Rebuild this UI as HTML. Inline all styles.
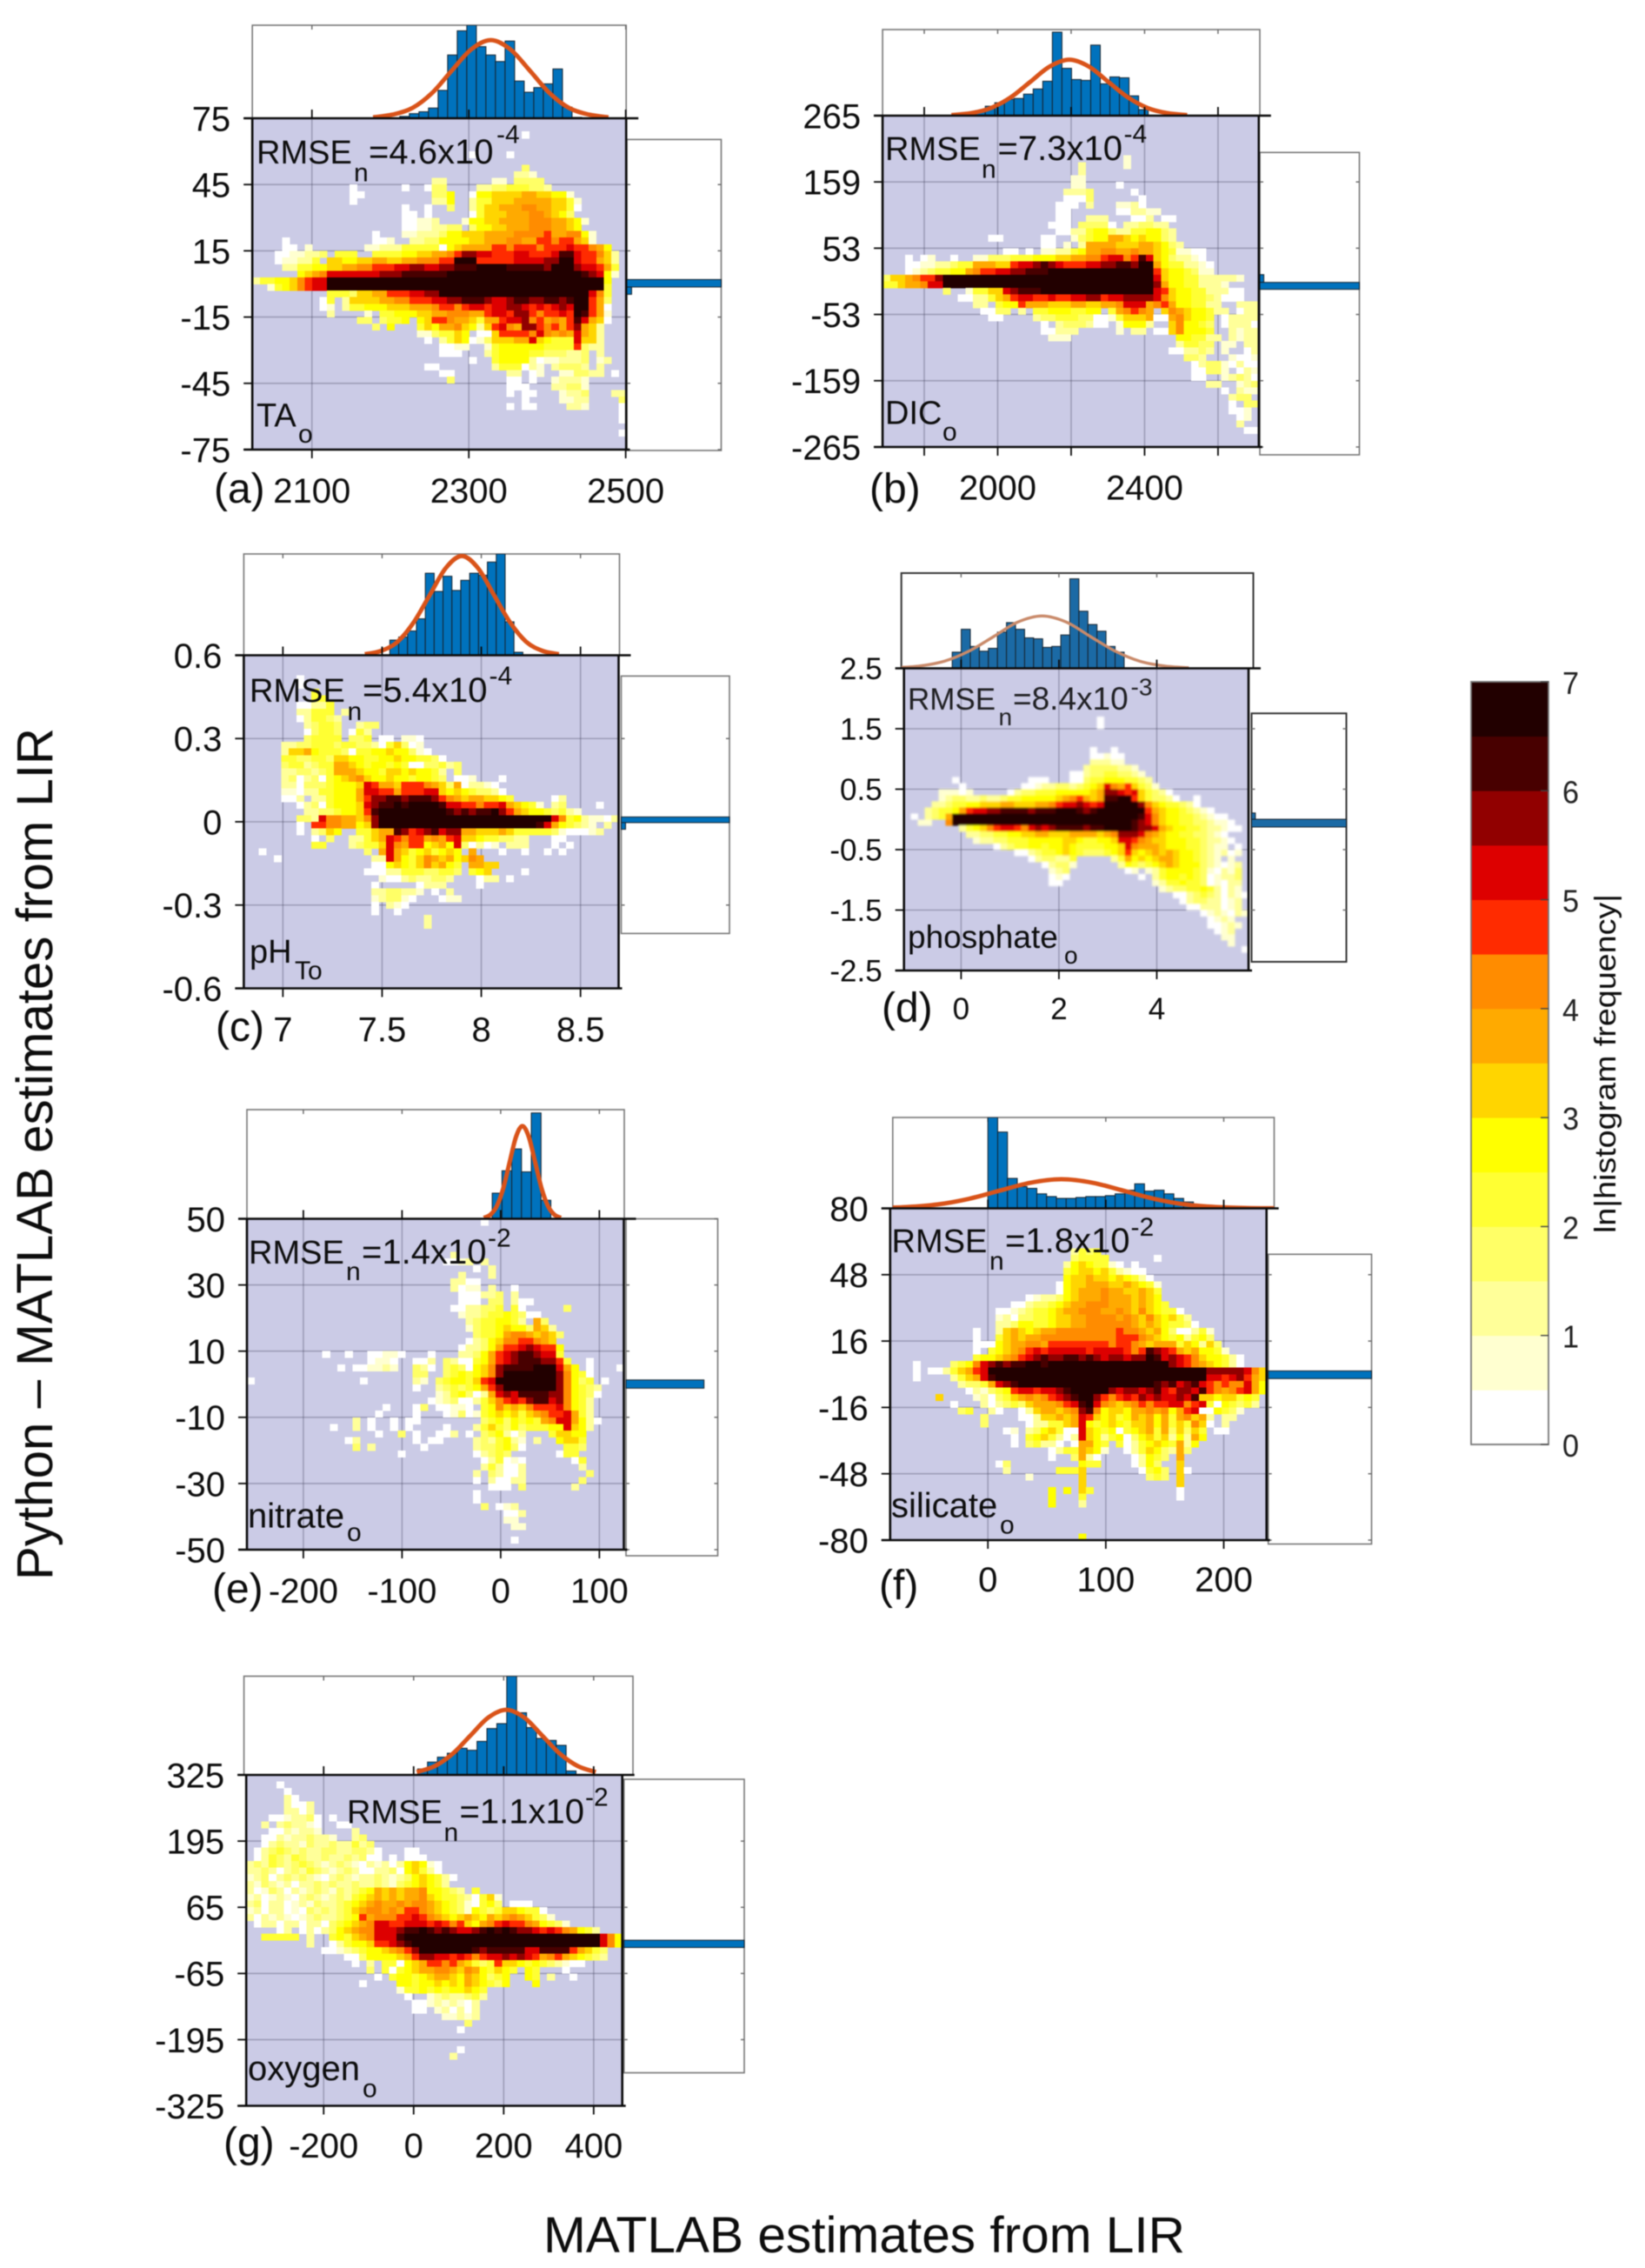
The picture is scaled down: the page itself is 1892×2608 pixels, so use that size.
<!DOCTYPE html>
<html lang="en">
<head>
<meta charset="utf-8">
<title>Python minus MATLAB estimates from LIR</title>
<style>
html,body{margin:0;padding:0;background:#fff}
#figure{display:block;filter:blur(.55px)}
text{font-family:"Liberation Sans",Arial,sans-serif;fill:#0d0d0d}
</style>
</head>
<body>
<svg id="figure" xmlns="http://www.w3.org/2000/svg" width="1892" height="2608" viewBox="0 0 1892 2608">
<rect x="0" y="0" width="1892" height="2608" fill="#ffffff"/>
<g id="plots"></g>
<g id="colorbar"></g>

<g>
<text font-size="38" y="188"><tspan x="295">RMSE</tspan><tspan x="407" y="208.5" font-size="30">n</tspan><tspan x="424" y="188" font-size="40">=4.6x10</tspan><tspan x="571" y="164.5" font-size="30">-4</tspan></text>
<text font-size="38" y="184"><tspan x="1018">RMSE</tspan><tspan x="1129" y="204.5" font-size="30">n</tspan><tspan x="1147.5" y="184" font-size="40">=7.3x10</tspan><tspan x="1292.5" y="164" font-size="30">-4</tspan></text>
<text font-size="38" y="807"><tspan x="287">RMSE</tspan><tspan x="399.5" y="828" font-size="30">n</tspan><tspan x="417" y="807" font-size="40">=5.4x10</tspan><tspan x="562.5" y="787" font-size="30">-4</tspan></text>
<text font-size="35" y="816" fill-opacity=".9"><tspan x="1044">RMSE</tspan><tspan x="1148.5" y="834" font-size="28">n</tspan><tspan x="1165" y="816" font-size="37">=8.4x10</tspan><tspan x="1300.5" y="799.5" font-size="28">-3</tspan></text>
<text font-size="38" y="1453"><tspan x="286">RMSE</tspan><tspan x="398" y="1472" font-size="30">n</tspan><tspan x="416" y="1453" font-size="40">=1.4x10</tspan><tspan x="561" y="1433.5" font-size="30">-2</tspan></text>
<text font-size="38" y="1440"><tspan x="1025.5">RMSE</tspan><tspan x="1138" y="1460" font-size="30">n</tspan><tspan x="1156" y="1440" font-size="40">=1.8x10</tspan><tspan x="1300.5" y="1421" font-size="30">-2</tspan></text>
<text font-size="38" y="2096.5"><tspan x="399">RMSE</tspan><tspan x="510.5" y="2117" font-size="30">n</tspan><tspan x="528.5" y="2096.5" font-size="40">=1.1x10</tspan><tspan x="673" y="2076.5" font-size="30">-2</tspan></text>

<text font-size="38" y="490.5"><tspan x="295">TA</tspan><tspan x="343" y="509" font-size="30">o</tspan></text>
<text font-size="38" y="487.5"><tspan x="1018">DIC</tspan><tspan x="1084" y="506.5" font-size="30">o</tspan></text>
<text font-size="38" y="1107"><tspan x="287">pH</tspan><tspan x="339" y="1126" font-size="30">To</tspan></text>
<text font-size="37" y="1090"><tspan x="1044">phosphate</tspan><tspan x="1224" y="1108" font-size="28">o</tspan></text>
<text font-size="40" y="1756.5"><tspan x="285">nitrate</tspan><tspan x="399" y="1772" font-size="30">o</tspan></text>
<text font-size="40" y="1744.5"><tspan x="1025">silicate</tspan><tspan x="1150" y="1763.5" font-size="30">o</tspan></text>
<text font-size="40" y="2392"><tspan x="285">oxygen</tspan><tspan x="417" y="2411.5" font-size="30">o</tspan></text>

<text x="246" y="578" font-size="48">(a)</text>
<text x="1000" y="578" font-size="48">(b)</text>
<text x="248" y="1197" font-size="48">(c)</text>
<text x="1014" y="1175" font-size="48">(d)</text>
<text x="244" y="1843" font-size="48">(e)</text>
<text x="1011" y="1839" font-size="48">(f)</text>
<text x="257" y="2480" font-size="48">(g)</text>

<text transform="translate(60,1327) rotate(-90)" text-anchor="middle" font-size="58" textLength="980" lengthAdjust="spacingAndGlyphs">Python – MATLAB estimates from LIR</text>
<text x="625" y="2590" font-size="58" textLength="738" lengthAdjust="spacingAndGlyphs">MATLAB estimates from LIR</text>
<text transform="translate(1858,1418) rotate(-90)" font-size="34" textLength="390" lengthAdjust="spacingAndGlyphs">ln|histogram frequency|</text>
</g>
</svg>

<script>
// ---------- shared values ----------
const levelColors = ['#ffffff','#ffffd0','#ffff99','#ffff66','#ffff33','#ffff00','#ffd500','#ffaa00','#ff8c00','#ff2b00','#dd0000','#910000','#480000','#220000'];
const levelKeys = 'abcdefghijklmn';
const colorbarTicks = [7,6,5,4,3,2,1,0];

// ---------- panel a: TA ----------
const aXTicks = [2100,2300,2500];
const aXLabels = ['2100','2300','2500'];
const aYTicks = [75,45,15,-15,-45,-75];
const aYLabels = ['75','45','15','-15','-45','-75'];
const aHistStart = 2212;
const aHistWidth = 12.2;
const aHist = [2,5,7,11,30,68,94,100,77,68,61,83,40,28,33,37,53,12,1];
const aCurveX = [2178,2203,2228,2253,2278,2303,2328,2353,2378,2403,2428,2453,2478];
const aCurveY = [1,4,11,27,51,74,84,74,51,27,11,4,1];
const aRightEdges = [2,-1.4,-4.7];
const aRightValues = [100,5];
const aCells = ["","",".36a","","",".29a.4a","",".36d",".35c2b",".24c2.6b2.1d4",
".13a.6a.2ad2.4c2d2e3d2c",".13a2.9d2f.2af2g4h2g2f2b",".13a.10c2f.2ce2g3h5g2eb",".20a.2a.2d.2ceg2h3i2h2g2ea",".20a2.1a.5aeg3h3i2hgfd",".20a2b2c.3bf2g2h4i3h2gfb",".20a2b2c2d2.1df2g2h3i3h2gf",".16a.3b2c3df2g3h4i4jh2i2fb",".4a.11a2b.2c2d2f4g2h3i2h2j2ij2hgb",".4a2.1b.7b2c3e5afgh4j2ij3ij3kj2ihf",
".3a2b2c2d.1e3.2e4f2g2h2ijl2k2j3k2j3km2kj2igc",".3ab2c2e.1g2f2g2h2g2h2i3j2n3j5k4l2n2kj2hgc",".4c2e2f2g2h2i2j3k2l2k2l2m3n4m5ln3lk2jhe",".6fghik7l3m6n18mlkfb","ce2f2gijk2n37f",".2befgijk2n37e",".10e3dg2h2j3k2l2n20kie",".9ae.1cg4h2i2j3k2l2m3lk2lm2l2m2lmn2jhd",".9ab.1ce2f3g3h3ij2ijk2jk2l2kjkjklkn2jha",".10c.4b.1e2f3g2h2i3h2jk2jl2jij2kjnmjhb",
".14d2.1de2f.1fgj2ih2geh2jk2lijhihjmkhga",".16d.1f.3egfh2igfcgjkihl2jijhjlhgc",".22b2de2gf.1a2gj4ikihihkhgc",".23a.1cegfabdg3h2kgfe3kg2c",".25a2b2.2bef6e4jdc2",".25a3.3cef4e2d3c2d.1c",".29a.2ef4cab2c3d.1bc",".23a2.7ce3acb.1cd3c.1c",".25a2.7c2.1ab.2b2d2c2.1a",".26d.7a2.1a.2bc3b",
".34a3.3c2d2b",".34a.1a2.3bc2d.3c2",".36a.4b2c2.4da",".34a.1a2.4c2b.4a",".49a",".49a","",".49a","",""];

// ---------- panel b: DIC ----------
const bXTicks = [1800,2000,2200,2400,2600];
const bXLabels = ['','2000','','2400',''];
const bYTicks = [265,159,53,-53,-159,-265];
const bYLabels = ['265','159','53','-53','-159','-265'];
const bHistStart = 1914;
const bHistWidth = 26.1;
const bHist = [3,6,11,15,19,20,25,31,40,97,55,42,41,82,37,45,44,23,7];
const bCurveX = [1874,1927.5,1981,2034.5,2088,2141.5,2195,2248.5,2302,2355.5,2409,2462.5,2516];
const bCurveY = [0.7,2.9,8.8,21,39,57,65,57,39,21,8.8,2.9,0.7];
const bRightEdges = [10.7,-1.7,-12.8];
const bRightValues = [4,100];
const bCells = ["","","","","","",".32b",".26c.5b",".26c",".25b2",
".25b2.4a",".24c3d.5a",".24a3d.6a",".23a3.1c.3b2ca",".23a2.6a2c2b2",".23a2.2c3.3a2c.1a2",".22a3.1d4a.1c2d2c2",".23a2c2ef2dc2e2f2dc",".14a2.5a2.2bdef2h2gfgf2dc",".21a2.1b.1ch4g3h2gfdc",
".16a2.1a.1b2c2efh2i2h2ih2gfeb2a2",".3a.1ab.2a.2b2d3e3f3g2h2i2jk2ijmkgfdc2ba",".3a2b2c2de2h3g2jk2lmlkj3k2l2m2ln2hfe2c2ba",".3abcde2f2hij2k2l2m3n14jgf2edb2","dg2hij2ln28kgf2e2c5b","e2gh2ik2n28lhf2e2c3b",".8d.2be2g2klm3n15kjgf2e2c3a2",".10a2c2eghjk2j2kj2k2l2jk2l4kigf2e2dca3",".12c2.1ef2jh3g3h2g2h2ik3hijhf2e2c2.2c3",".13a2d2.1c.1e2f3e2f2.1ehijih.1gihgf2ec2.1ac2",
".14a2.4cd2e3d2a2beg3ha2higf2e.1ac4",".21a.1cd3ca2.1bf3c.2gif2ed.1ac3a",".21a2c3.5b.1c2.1a2gif3e.2cbc2",".22b3.14f2e2c2.1cbc2",".39ce2d2.1b2.1c2",".38a2c2dc.1b.2ac",".40d2c.3ba2b",".41acd2bacaa",".41a2d2b.1acb",".41a2.2bcdca",
".43c2.2bcd.1a",".45a.1cb2c",".46cd2.1c",".46a.1d2",".46a2b",".47ab",".47c",".48a2","",""];

// ---------- panel c: pH ----------
const cXTicks = [7,7.5,8,8.5];
const cXLabels = ['7','7.5','8','8.5'];
const cYTicks = [0.6,0.3,0,-0.3,-0.6];
const cYLabels = ['0.6','0.3','0','-0.3','-0.6'];
const cHistStart = 7.539;
const cHistWidth = 0.0447;
const cHist = [15,18,24,36,81,63,78,64,74,81,79,92,100,33,3];
const cCurveX = [7.413,7.4945,7.576,7.6575,7.739,7.8205,7.902,7.9835,8.065,8.1465,8.228,8.3095,8.391];
const cCurveY = [1.1,4.3,13,32,59,86,98,86,59,32,13,4.3,1.1];
const cRightEdges = [0.0175,-0.003,-0.027];
const cRightValues = [100,4];
const cCells = ["","","",".7a",".7a",".9e",".9e2",".7a2c2e",".7c2e3.1c",".7ace2dc",
".8cde2d.2cd2",".8ade2d.1aec",".8de4.1d2e.1a2.1b2a",".5c2d2e3de2d2caegdab",".5cg2hfe3dae2f2gf2dba",".5e2d2e2dg2f2e2f2gf2e2da",".5de2cde2h2gfef2efea2d2ecd",".5c2d2cdeh3gf2eg2fgf2ec.1d",".5cdacdaefghigf2gf2ef2ed.1a2b.3a",".5c2ad3ef3gkjh2gj3ihgdhac2ba",
".5b2ac2e2f3hk2j2hj3k2gfgfed2ca",".5a2c.1c2ef3hjl2m2lm3ljihgh2g2fe.5ac",".7acdaef3gklm2nmn4mk2j2ij2khgfeb.1cd.4a",".8c2d2ef2gjmn9mlmlm2nljhgf2edecb",".7d2cki2h2giln23kiefcb2ac",".7a.1j2i2h2fgln21mkhfedcb.1c",".7a.1cdgf.2e2gh2mljklmkl2h2g3hge5dba3bc",".9a.1d.2c2eghkjij2hihjkg2fe2d2c2.3a2",".9e2.3cde2gkihj2fghfkdacab.1c3.3a.1a",".2a.13d.1hkhgefgefgf.1h.3a.2a.2a.1a",
".4a.12c2khfegihghfgih",".17a2fgfegighfe.1h2g2",".16a3c2e3d2e2d.1efg.4a",".18ba2cdc2d2c.3ac2.1a",".17a.5ac3.4a",".17c2d2c2b.1a.1c",".17bcd2ba.3ab2",".17a.1cba",".17a.2a",".24c",
".24c","","","","","","","","",""];

// ---------- panel d: phosphate ----------
const dXTicks = [0,2,4];
const dXLabels = ['0','2','4'];
const dYTicks = [2.5,1.5,0.5,-0.5,-1.5,-2.5];
const dYLabels = ['2.5','1.5','0.5','-0.5','-1.5','-2.5'];
const dHistStart = -0.182;
const dHistWidth = 0.185;
const dHist = [17,41,23,18,21,38,48,41,32,31,22,23,35,94,60,46,39,23,17];
const dCurveX = [-1.345,-0.845,-0.345,0.155,0.655,1.155,1.655,2.155,2.655,3.155,3.655,4.155,4.655];
const dCurveY = [0.6,2.4,7.4,17.9,33,48.5,55,48.5,33,17.9,7.4,2.4,0.6];
const dRightEdges = [0.107,0.003,-0.126];
const dRightValues = [4,100];
const dCells = ["","","","","","","","",".28a",".28a",
"","","",".27a.2a",".27a2ba2",".27c3b2",".26cd4c2b",".24a2cd2e2d2cb",".7a.10a3.3a2de2f3e2dc",".8a.8a2bc2d2cdefgkihjgedb",
".5b3ab.5acd2e3f5ghl2kjkgedca",".5bcd2c2dc2de2f3f2ghijhghm2n2jged2ca.2a",".4c2de2f2g3h2g3h2ijk2lkjkn5ligfe2dca",".3cde2fhjk2l2m4lm3n3mlmn7jhgf2edcba",".1a.1cdehn27mkigf2e2dcba2",".2b2.2in26mlkigf2e2d2cb2a",".8cefgijk2jiklklm4lm2n4ml2khgf2e2dc2ba2",".9c2d2e2f2g2h2g3h4ghil3kihgf2e2d2cba",".10bc2d2e3f5g2fe2f2gk2jihg2f3e2dc2ba",".13acde2f2ef2gfe4f2gkih3gf3e2dcb2.1a",
".16a2cde2fgfed3efgjgfghghgf2edcbcab",".18acd2c2e.5cehfgfgh2gf2edcb.1b",".20acd2b.6cfedefghgf3dcbabc",".21bcd.8ab.1bcef4edbacbd",".21aba.10a.1cef2efedabc2d",".21a2.13bce2fe2dabac2",".37bcd2e2fecacb",".39a2cdedcacba",".40acd2c2abc",".41a2c3abc",
".43abcbacb",".44abcb",".44a2bcb",".45abc",".46b2",".47b",".49a","","",""];

// ---------- panel e: nitrate ----------
const eXTicks = [-200,-100,0,100];
const eXLabels = ['-200','-100','0','100'];
const eYTicks = [50,30,10,-10,-30,-50];
const eYLabels = ['50','30','10','-10','-30','-50'];
const eHistStart = -8.6;
const eHistWidth = 9.9;
const eHist = [23.5,44,64,43,97,17];
const eCurveX = [-17,-10.5,-4,2.5,9,15.5,22,28.5,35,41.5,48,54.5,61];
const eCurveY = [0.9,3.7,11.5,27.6,51.6,75,85,75,51.6,27.6,11.5,3.7,0.9];
const eRightEdges = [1.3,-1.2];
const eRightValues = [85];
const eCells = [".31a","","","","",".27c",".26a2bc.1c",".30a.1c",".28c.3c",".27c2a2",
".27cab2.1c.2a",".28a3c2d.1c",".28a3.1d2.1ca2",".27a2c2d2e.1ea.5d",".28bc2de2feda2",".29cde2f2ec.1hd",".29bde2fgf2dhgc",".30de2fhi2hghgd",".29acdfgi2j2ihg",".28ac2dfhj2klkj2f",
".10a.2a.2a2b2a.3a.3c2dfhjklm2lk2e",".16ab2a.2a2c.1dca2efhjklm3l2je.2a",".12a.1a2b2cb.2dca.1dedafgilm4n3khf.1a.3a",".22d2.2defefgiln7lifea","a.14a.6cb.1def2egjkn8lifde.1a",".22a.2cdedefhjln7lifedc",".25bcefdachklkm4l2ifeda",".24abcda2cegijkjlm2klifec",".18a.3ad.1a2b2a.1efighgij3kifec",".17a.4a.3abdabefgfgeghij2khec",
".14c.1a.2a.1a2.8defdfefehik2hfca",".11a.2c.1a.2a.1a.4a.3cegedfde3f2kgfc",".17a.2d.1a.2a2c.1a.1defcac.3eg2f2",".13ac.7a.1a2.4cdcefcb.1c.2fg2e",".14d.1c.6a.6cd2efda.5e2d",".20a.9acded.6ae2",".31aceaba.6ae",".31ceca2c.7c",".30c.1dca2c.8d",".30a.1ca2c2.7d",
".32a3.1d.6c",".30a",".30a",".31d.1abc",".34a2c",".34b2",".35b2","",".35a",""];

// ---------- panel f: silicate ----------
const fXTicks = [0,100,200];
const fXLabels = ['0','100','200'];
const fYTicks = [80,48,16,-16,-48,-80];
const fYLabels = ['80','48','16','-16','-48','-80'];
const fHistStart = 0;
const fHistWidth = 8.3;
const fHist = [100,84,33,24,22,16,13,11,11,12,13,13,14,16,20,27,19,20,16,11,7,3];
const fCurveX = [-95.4,-69.1,-42.8,-16.5,9.8,36.1,62.4,88.7,115,141.3,167.6,193.9,220.2,246.5];
const fCurveY = [0.36,1.4,4.3,10.4,19.4,28.2,32,28.2,19.4,10.4,4.3,1.4,0.36,0.07];
const fRightEdges = [1.6,-2.1];
const fRightValues = [100];
const fCells = ["","","","","","",".24cede",".24de4.6a",".23cfgfe2ba.1a",".23efg2fgecba2",
".23fg2hg2fgfeca",".22afg2h3g2hgfeb",".22afgh3ih2g2hge",".18abc2dfgh3ih3ghgf",".16a2cd2efgh2i3h3ghgfe",".14a2bcde2fgh2i3h2ihgigfe2a",".14bcad2e2fg2h2i4hihgigfgec",".14c2df2e2fg2h2i6hghgfe2da",".11a.2cghgfgh2i8ji2hghfda2ceb",".11a.2eghgh2i10j3ihgfefcefd",
".11a3fgh2i2hj8ij2ihgh3egfcgd",".11a.1efghijkjk5jk4jijmlkjhghf2eb",".11ef2ghijklml2m2lmlkl2kl2nmklkjigf2eca",".3a.4defiklmlm2n2mn16lkjihgfeca",".3a.1a2ceghjkn29l5kig",".3a.4ceghkmn28k2jkljhg",".9cd2ehklmn18mlmklmkjiji2khf",".10acbdefjk2jk2lmn5lkl2klmkjl2kmjihijkhf",".6g.4bcadeghihijklmn2ljijkjlklk2lkmg2fg2efe",".8a.3cacdedgh3ijkmnkihghijij2k2ijkeafedec",
".9de.2ca.2acgh2ghilmifg2fh2ihifhjka2fedb",".12d.4a2cg2hghkjgfgefhghfhehighc.1c2",".12d.5ac2e2ghkfefgfeg2hfhegeiga.1c",".15ab.1cdfgea2kgfefaefghehdgdge.1a2",".16a.1efgecackgfcefadfgegcfchf",".16a.1dec2a.1ah2fe.1eacefgfehcf",".21ace2hgfb.2acegfdchd",".21a.2dhca.4acfed.1h",".14ad.9fe2.4acfd.2g",".15c.6e3g.7aefd.1ga",
".18b.6g.8ded.1g",".25g.12g",".21f.1f.1ge.11a",".21f.3e.12a",".21f.3c","","","","",".25f"];

// ---------- panel g: oxygen ----------
const gXTicks = [-200,0,200,400];
const gXLabels = ['-200','0','200','400'];
const gYTicks = [325,195,65,-65,-195,-325];
const gYLabels = ['325','195','65','-65','-195','-325'];
const gHistStart = 8.8;
const gHistWidth = 22;
const gHist = [6,13,18,22,27,25,34,47,52,100,63,48,37,35,30,4];
const gCurveX = [7.05,46.8,86.55,126.3,166.05,205.8,245.55,285.3,325.05,364.8,404.55];
const gCurveY = [2.9,8.9,21.4,40,58.2,66,58.2,40,21.4,8.9,2.9];
const gRightEdges = [0.3,-14];
const gRightValues = [100];
const gCells = ["",".4a",".5a",".5ca",".5ca2c",".5c2ac",".3a2bc2da.1a",".2c.1cdc2ba.2a2",".3a2cbc2b.4c",".2a2cbc2dc2b.2cd",
".2acdc2bdc2dc2ecd",".1acdedcdc2d2c2d2ca.3a2",".1acedcedc2dc2dcda2.1a.1a3","cdcedcdedcbcdcbacbcacfgfba","c2dcacdcedcbcdca2c2dafgeca","bcdacdcdcbacdcbc2dcbcdfgfeca","cbdcbcac2dcdc2dc2dcbdefgfec","cabdcacbcdcbdcdefhghgh2iffedc.1e","bcabcbacdcbcdcefghghgh2igfe2dcaegb","cdac2abcbdc2defghihhihi2hgfedbaefd.1a3",
"bcac2abadcdcdeghi2hihj2ihgfedbfedeg2fe2a","cacbcbabcdc2defjhi3j2kjihgfghgfhghihgedb",".1ac2ac2ac2adefghik2j2k3jkjijgfhijkj2ihfedb",".4ac.1acacdfghi2k3lm2nmlmlk2lmnmnml2kjkjihfec",".2e5.1c.2efeghik3mn26kif",".8c.2acef2gj2klmn25kif",".10a2bcdef2ghijln7mlm5k2m4jhged",".13a2df4ghjl2k2jkjijk2lklkjhijhgfedc",".14a.1c.1e2afghj2ijhgedejg2fefedcba2",".16d.1eaefgh2i2hgihfegfe.1fe.3a",
".17a.1ef2efgh2gfhgfdef.2fe.1c.2a",".15a.4f2ef2gfgfhgfedf.3f",".20be2fefef2gfe",".21a.2bcdc2dec",".22a2bcbcbac",".22a2.1bcacac",".26b2cbc",".29d",".28a","",
"",".28a",".27c","","","","","","",""];

// ---------- page layout (pixel boxes only, values live in the arrays above) ----------
const panels = [
 {id:'a',l:290.2,r:720.2,t:136,b:517,xMin:2024,xMax:2500.6,yMax:75,topT:29,topL:290.2,topR:720.2,rl:721,rr:829.5,rt:160.4,rb:518,xLabY:578,fs:40,bar:'#0072bd',line:'#d95319',
  xt:aXTicks,xl:aXLabels,yt:aYTicks,yl:aYLabels,hs:aHistStart,hw:aHistWidth,h:aHist,cx:aCurveX,cy:aCurveY,re:aRightEdges,rv:aRightValues,cells:aCells},
 {id:'b',l:1015.1,r:1447.8,t:133,b:514,xMin:1686.6,xMax:2711,yMax:265,topT:34,topL:1015.1,topR:1449,rl:1449,rr:1563.5,rt:175.3,rb:523,xLabY:574.5,fs:40,bar:'#0072bd',line:'#d95319',
  xt:bXTicks,xl:bXLabels,yt:bYTicks,yl:bYLabels,hs:bHistStart,hw:bHistWidth,h:bHist,cx:bCurveX,cy:bCurveY,re:bRightEdges,rv:bRightValues,cells:bCells},
 {id:'c',l:280.4,r:711.5,t:753.5,b:1136.5,xMin:6.803,xMax:8.692,yMax:0.6,topT:637,topL:280.4,topR:712.5,rl:714.5,rr:839,rt:777.4,rb:1073.4,xLabY:1197.5,fs:40,bar:'#0072bd',line:'#d95319',
  xt:cXTicks,xl:cXLabels,yt:cYTicks,yl:cYLabels,hs:cHistStart,hw:cHistWidth,h:cHist,cx:cCurveX,cy:cCurveY,re:cRightEdges,rv:cRightValues,cells:cCells},
 {id:'d',l:1039.7,r:1436,t:768.5,b:1116,xMin:-1.168,xMax:5.876,yMax:2.5,topT:659,topL:1036.7,topR:1441.5,rl:1439.5,rr:1548.5,rt:820.3,rb:1106,xLabY:1172,fs:35,bar:'#1b6aa5',line:'#c98a6a',
  xt:dXTicks,xl:dXLabels,yt:dYTicks,yl:dYLabels,hs:dHistStart,hw:dHistWidth,h:dHist,cx:dCurveX,cy:dCurveY,re:dRightEdges,rv:dRightValues,cells:dCells},
 {id:'e',l:284,r:717.5,t:1401.5,b:1782,xMin:-257.2,xMax:124.8,yMax:50,topT:1276,topL:284,topR:718,rl:720,rr:825.5,rt:1401.5,rb:1789,xLabY:1843,fs:40,bar:'#0072bd',line:'#d95319',
  xt:eXTicks,xl:eXLabels,yt:eYTicks,yl:eYLabels,hs:eHistStart,hw:eHistWidth,h:eHist,cx:eCurveX,cy:eCurveY,re:eRightEdges,rv:eRightValues,cells:eCells},
 {id:'f',l:1023.8,r:1456.7,t:1389.5,b:1771,xMin:-82.9,xMax:236.3,yMax:80,topT:1285,topL:1026.8,topR:1465.5,rl:1458.7,rr:1577.5,rt:1442.3,rb:1775.5,xLabY:1830,fs:40,bar:'#0072bd',line:'#d95319',
  xt:fXTicks,xl:fXLabels,yt:fYTicks,yl:fYLabels,hs:fHistStart,hw:fHistWidth,h:fHist,cx:fCurveX,cy:fCurveY,re:fRightEdges,rv:fRightValues,cells:fCells},
 {id:'g',l:283.2,r:715.7,t:2041,b:2421.5,xMin:-372,xMax:463.5,yMax:325,topT:1927.5,topL:280.6,topR:728,rl:717.7,rr:856,rt:2046,rb:2383.5,xLabY:2481,fs:40,bar:'#0072bd',line:'#d95319',
  xt:gXTicks,xl:gXLabels,yt:gYTicks,yl:gYLabels,hs:gHistStart,hw:gHistWidth,h:gHist,cx:gCurveX,cy:gCurveY,re:gRightEdges,rv:gRightValues,cells:gCells}
];

const NS = 'http://www.w3.org/2000/svg';
function mk(parent, tag, attrs) {
  const el = document.createElementNS(NS, tag);
  for (const k in attrs) el.setAttribute(k, attrs[k]);
  parent.appendChild(el);
  return el;
}
function smoothPath(pts) {
  let d = 'M' + pts[0][0].toFixed(2) + ' ' + pts[0][1].toFixed(2);
  for (let i = 0; i < pts.length - 1; i++) {
    const p0 = pts[Math.max(i - 1, 0)], p1 = pts[i], p2 = pts[i + 1], p3 = pts[Math.min(i + 2, pts.length - 1)];
    const c1x = p1[0] + (p2[0] - p0[0]) / 6, c1y = p1[1] + (p2[1] - p0[1]) / 6;
    const c2x = p2[0] - (p3[0] - p1[0]) / 6, c2y = p2[1] - (p3[1] - p1[1]) / 6;
    d += 'C' + c1x.toFixed(2) + ' ' + c1y.toFixed(2) + ' ' + c2x.toFixed(2) + ' ' + c2y.toFixed(2) + ' ' + p2[0].toFixed(2) + ' ' + p2[1].toFixed(2);
  }
  return d;
}

const plots = document.getElementById('plots');
const defs = mk(plots, 'defs', {});
const softBlur = mk(defs, 'filter', {id:'soft-blur', x:'-2%', y:'-2%', width:'104%', height:'104%'});
mk(softBlur, 'feGaussianBlur', {stdDeviation:'1'});

panels.forEach(function (p) {
  const xScale = function (v) { return p.l + (v - p.xMin) / (p.xMax - p.xMin) * (p.r - p.l); };
  const yScale = function (v) { return p.t + (p.yMax - v) / (2 * p.yMax) * (p.b - p.t); };
  const topScale = function (v) { return p.t - v / 100 * (p.t - p.topT); };
  const rightScale = function (v) { return p.rl + v / 100 * (p.rr - p.rl); };

  const g = mk(plots, 'g', {});
  
  

  // clips
  const clipTop = mk(defs, 'clipPath', {id:'clip-top-' + p.id});
  mk(clipTop, 'rect', {x:p.topL, y:p.topT, width:p.topR - p.topL, height:p.t - p.topT});
  const clipMain = mk(defs, 'clipPath', {id:'clip-main-' + p.id});
  mk(clipMain, 'rect', {x:p.l, y:p.t, width:p.r - p.l, height:p.b - p.t});

  // top histogram frame
  const topBox = mk(g, 'rect', {x:p.topL, y:p.topT, width:p.topR - p.topL, height:p.t - p.topT, fill:'#fff', stroke:p.id === 'd' ? '#333' : '#777', 'stroke-width':p.id === 'd' ? 2 : 1.6});
  
  

  // right histogram frame
  const rightBox = mk(g, 'rect', {x:p.rl, y:p.rt, width:p.rr - p.rl, height:p.rb - p.rt, fill:'#fff', stroke:p.id === 'd' ? '#333' : '#777', 'stroke-width':p.id === 'd' ? 2 : 1.6});
  
  

  // top histogram ticks at frame top
  p.xt.forEach(function (v) {
    const tk = mk(g, 'line', {x1:xScale(v), x2:xScale(v), y1:p.topT, y2:p.topT + 5, stroke:'#666', 'stroke-width':1.4});
    
    
  });

  // right histogram ticks
  p.yt.forEach(function (v) {
    const y = yScale(v);
    if (y < p.rt || y > p.rb) return;
    const t1 = mk(g, 'line', {x1:p.rl, x2:p.rl + 4, y1:y, y2:y, stroke:'#666', 'stroke-width':1.4});
    
    
    const t2 = mk(g, 'line', {x1:p.rr - 4, x2:p.rr, y1:y, y2:y, stroke:'#666', 'stroke-width':1.4});
    
    
  });

  // top histogram bars
  const topGroup = mk(g, 'g', {'clip-path':'url(#clip-top-' + p.id + ')'});
  p.h.forEach(function (v, i) {
    const x0 = xScale(p.hs + i * p.hw), x1 = xScale(p.hs + (i + 1) * p.hw);
    const bar = mk(topGroup, 'rect', {x:x0, y:topScale(v), width:x1 - x0, height:p.t - topScale(v), fill:p.bar, stroke:'#16222c', 'stroke-width':1});
    
    
  });

  // normal fit curve
  const curvePts = p.cx.map(function (v, i) { return [xScale(v), topScale(p.cy[i])]; });
  const curve = mk(topGroup, 'path', {d:smoothPath(curvePts), fill:'none', stroke:p.line, 'stroke-width':p.id === 'd' ? 3.4 : 5});
  
  

  // right histogram bars
  p.rv.forEach(function (v, i) {
    const y0 = yScale(p.re[i]), y1 = yScale(p.re[i + 1]);
    const bar = mk(g, 'rect', {x:p.rl, y:y0, width:rightScale(v) - p.rl, height:y1 - y0, fill:p.bar, stroke:'#16222c', 'stroke-width':1});
    
    
  });

  // main plot background
  const bg = mk(g, 'rect', {x:p.l, y:p.t, width:p.r - p.l, height:p.b - p.t, fill:'#cbcbe6'});
  
  

  // grid lines
  p.xt.forEach(function (v) {
    const gl = mk(g, 'line', {x1:xScale(v), x2:xScale(v), y1:p.t, y2:p.b, stroke:'#3c3c55', 'stroke-opacity':.32, 'stroke-width':1.6});
    
    
  });
  p.yt.forEach(function (v) {
    const gl = mk(g, 'line', {x1:p.l, x2:p.r, y1:yScale(v), y2:yScale(v), stroke:'#3c3c55', 'stroke-opacity':.32, 'stroke-width':1.6});
    
    
  });

  // heatmap cells
  const cellAttrs = {'clip-path':'url(#clip-main-' + p.id + ')', 'shape-rendering':'crispEdges'};
  if (p.id === 'd') cellAttrs.filter = 'url(#soft-blur)';
  const cellGroup = mk(g, 'g', cellAttrs);
  const dx = (p.xMax - p.xMin) / 50, dy = 2 * p.yMax / 50;
  p.cells.forEach(function (row, r) {
    let c = 0;
    const re = /([a-n.])(\d*)/g;
    let m;
    while ((m = re.exec(row))) {
      const n = m[2] ? parseInt(m[2], 10) : 1;
      if (m[1] === '.') { c += n; continue; }
      const color = levelColors[levelKeys.indexOf(m[1])];
      for (let k = 0; k < n && c < 50; k++, c++) {
        const x0 = xScale(p.xMin + c * dx), x1 = xScale(p.xMin + (c + 1) * dx);
        const y0 = yScale(p.yMax - r * dy), y1 = yScale(p.yMax - (r + 1) * dy);
        const cell = mk(cellGroup, 'rect', {x:x0.toFixed(2), y:y0.toFixed(2), width:(x1 - x0 + .4).toFixed(2), height:(y1 - y0 + .4).toFixed(2), fill:color});
        
        
      }
    }
  });

  // axes
  const axisColor = '#0a0a0a';
  [[p.l - 10, p.r + 14, p.t, p.t], [p.l - 10, p.r + 4, p.b, p.b], [p.l, p.l, p.t, p.b], [p.r, p.r, p.t, p.b]].forEach(function (s) {
    const ax = mk(g, 'line', {x1:s[0], x2:s[1], y1:s[2], y2:s[3], stroke:axisColor, 'stroke-width':2.6});
    
    
  });

  // ticks and tick labels
  p.xt.forEach(function (v, i) {
    const x = xScale(v);
    const t1 = mk(g, 'line', {x1:x, x2:x, y1:p.t - 10, y2:p.t, stroke:axisColor, 'stroke-width':1.8});
    
    
    const t2 = mk(g, 'line', {x1:x, x2:x, y1:p.b, y2:p.b + 10, stroke:axisColor, 'stroke-width':1.8});
    
    
    if (p.xl[i]) {
      const lab = mk(g, 'text', {x:x, y:p.xLabY, 'text-anchor':'middle', 'font-size':p.fs});
      
      
      lab.textContent = p.xl[i];
    }
  });
  p.yt.forEach(function (v, i) {
    const y = yScale(v);
    const t1 = mk(g, 'line', {x1:p.l - 10, x2:p.l, y1:y, y2:y, stroke:axisColor, 'stroke-width':1.8});
    
    
    const lab = mk(g, 'text', {x:p.l - 25, y:y + (p.fs * .36), 'text-anchor':'end', 'font-size':p.fs});
    
    
    lab.textContent = p.yl[i];
  });
});

// ---------- colorbar ----------
(function () {
  const cb = document.getElementById('colorbar');
  const L = 1692, R = 1781, T = 784, B = 1661;
  const yOf = function (v) { return B - v / 7 * (B - T); };
  levelColors.forEach(function (col, i) {
    const seg = mk(cb, 'rect', {x:L, y:yOf((i + 1) / 2), width:R - L, height:yOf(i / 2) - yOf((i + 1) / 2) + .4, fill:col});
    
    
  });
  const frame = mk(cb, 'rect', {x:L, y:T, width:R - L, height:B - T, fill:'none', stroke:'#777', 'stroke-width':1.8});
  
  
  colorbarTicks.forEach(function (v) {
    const tk = mk(cb, 'line', {x1:R - 9, x2:R, y1:yOf(v), y2:yOf(v), stroke:'#444', 'stroke-width':1.4});
    
    
    const lab = mk(cb, 'text', {x:1797, y:yOf(v) + 14, 'font-size':36, textLength:19, lengthAdjust:'spacingAndGlyphs', style:'fill:#222'});
    
    
    lab.textContent = String(v);
  });
})();
</script>
</body>
</html>
